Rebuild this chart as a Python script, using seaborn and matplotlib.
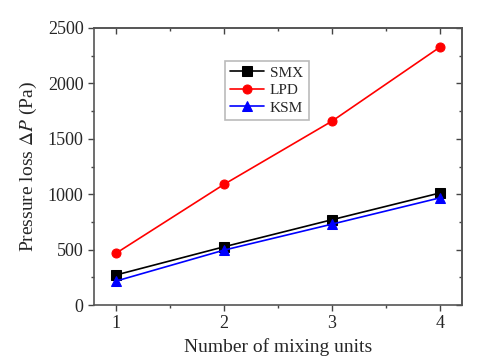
import numpy as np
import pandas as pd
import matplotlib
matplotlib.use('Agg')
import matplotlib.pyplot as plt
import seaborn as sns
from matplotlib.ticker import MultipleLocator

units = [1, 2, 3, 4]
smx = [270, 525, 770, 1012]
lpd = [465, 1088, 1660, 2330]
ksm = [215, 495, 730, 968]

df = pd.DataFrame({'units': units * 3,
                   'dp': smx + lpd + ksm,
                   'mixer': ['SMX'] * 4 + ['LPD'] * 4 + ['KSM'] * 4})

sns.set_style('white')
plt.rcParams['font.family'] = ['Liberation Serif', 'DejaVu Serif']
plt.rcParams['mathtext.fontset'] = 'stix'

fig = plt.figure(figsize=(5.02, 3.59), dpi=100)
ax = fig.add_axes([94 / 502, 1 - 305 / 359, (462 - 94) / 502, (305 - 28) / 359])

palette = {'SMX': 'black', 'LPD': 'red', 'KSM': 'blue'}
markers = {'SMX': 's', 'LPD': 'o', 'KSM': '^'}
sns.lineplot(data=df, x='units', y='dp', hue='mixer', style='mixer',
             palette=palette, markers=markers, dashes=False, markersize=6.5,
             markeredgecolor=None, linewidth=1.2, ax=ax)

ax.set_xlim(0.8, 4.2)
ax.set_ylim(0, 2500)
ax.xaxis.set_major_locator(MultipleLocator(1))
ax.xaxis.set_minor_locator(MultipleLocator(0.5))
ax.yaxis.set_major_locator(MultipleLocator(500))
ax.yaxis.set_minor_locator(MultipleLocator(250))
ax.tick_params(which='major', direction='out', length=4, width=1, labelsize=13,
               bottom=True, left=True, color='#444444')
ax.tick_params(which='minor', direction='out', length=2.5, width=1,
               bottom=True, left=True, color='#444444')

for side in ['top', 'right']:
    sec = ax.secondary_xaxis('top') if side == 'top' else ax.secondary_yaxis('right')
    axis = sec.xaxis if side == 'top' else sec.yaxis
    axis.set_major_locator(MultipleLocator(1 if side == 'top' else 500))
    axis.set_minor_locator(MultipleLocator(0.5 if side == 'top' else 250))
    sec.tick_params(which='major', direction='in', length=4, width=1, color='#444444')
    sec.tick_params(which='minor', direction='in', length=2.5, width=1, color='#444444')
    sec.tick_params(which='both', labeltop=False, labelright=False)
    axis.set_ticklabels([])
    for s in sec.spines.values():
        s.set_linewidth(1.2)
        s.set_color('#555555')

for s in ax.spines.values():
    s.set_linewidth(1.2)
    s.set_color('#555555')

ax.set_xlabel('Number of mixing units', fontsize=14, labelpad=4)
ax.set_ylabel(r'Pressure loss $\Delta P$ (Pa)', fontsize=14, labelpad=6)

leg = ax.legend(loc='upper left', bbox_to_anchor=(0.335, 0.91), fontsize=11,
                frameon=True, fancybox=False, edgecolor='#aaaaaa',
                handlelength=2.2, handletextpad=0.4, borderpad=0.35,
                labelspacing=0.25)
leg.get_frame().set_linewidth(1.2)

fig.savefig('out.png', dpi=100)
